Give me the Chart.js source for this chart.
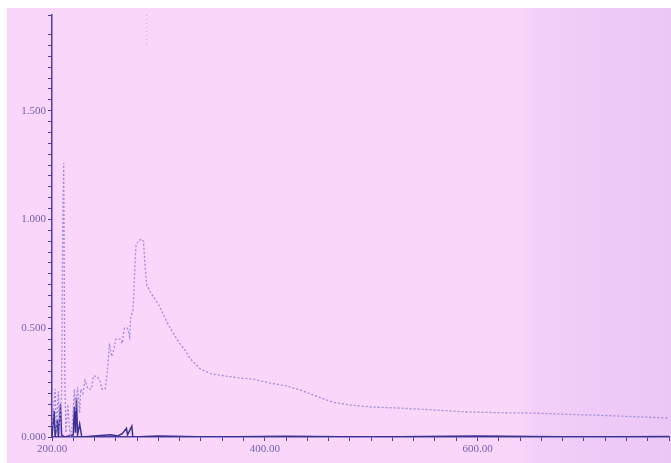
<!DOCTYPE html>
<html>
<head>
<meta charset="utf-8">
<script src="https://cdn.jsdelivr.net/npm/chart.js@4.4.0/dist/chart.umd.min.js"></script>
<style>
  html, body { margin: 0; padding: 0; background: #ffffff; }
  #wrap { position: relative; width: 671px; height: 463px; overflow: hidden; }
  #paper { position: absolute; left: 7px; top: 8px; right: 0; bottom: 0;
    background: linear-gradient(to right, #fad6fb 0%, #fad6fb 77%, #f2cff8 80%, #eac7f5 100%); }
  #spec { position: absolute; left: 0; top: 0; }
</style>
</head>
<body>
<div id="wrap">
  <div id="paper"></div>
  <canvas id="spec" width="671" height="463"></canvas>
</div>
<script>
// wavelength (nm) and absorbance
let wavelength = [200, 201, 203, 204, 206, 207, 209, 210, 211, 212, 213, 215, 217, 219, 221, 222, 224, 226, 227, 229,
  231, 234, 237, 239, 242, 245, 247, 250, 252, 254, 256, 258, 260, 264, 266, 268, 271, 273, 274, 276,
  277, 278, 279, 281, 284, 286, 287, 289, 292, 296, 300, 305, 310, 315, 320, 325, 330, 340, 350, 370,
  390, 403, 420, 434, 450, 464, 480, 500, 527, 560, 590, 620, 651, 680, 714, 745, 780]
let absorbance = [0.05, 0.10, 0.22, 0.03, 0.21, 0.02, 0.20, 0.90, 1.26, 0.30, 0.02, 0.15, 0.00, 0.05, 0.22, 0.12, 0.23, 0.11, 0.22, 0.20,
  0.26, 0.22, 0.22, 0.28, 0.28, 0.26, 0.22, 0.22, 0.30, 0.43, 0.37, 0.40, 0.45, 0.45, 0.43, 0.50, 0.50, 0.46, 0.55, 0.58,
  0.67, 0.80, 0.88, 0.90, 0.91, 0.90, 0.82, 0.70, 0.67, 0.64, 0.61, 0.56, 0.51, 0.47, 0.43, 0.40, 0.36, 0.31, 0.29, 0.275,
  0.265, 0.25, 0.235, 0.215, 0.185, 0.16, 0.147, 0.138, 0.133, 0.124, 0.115, 0.112, 0.11, 0.105, 0.10, 0.094, 0.087]

// dark baseline trace
let baseWl = [200, 202, 203, 205, 206, 208, 209, 212, 220, 221, 222, 223, 224, 226, 228, 240, 255, 262, 266, 270,
  271, 275, 276, 300, 350, 420, 500, 600, 700, 780]
let baseAbs = [0.00, 0.12, 0.00, 0.08, 0.00, 0.15, 0.01, 0.00, 0.01, 0.14, 0.02, 0.18, 0.01, 0.06, 0.00, 0.005, 0.01, 0.005, 0.015, 0.04,
  0.01, 0.05, 0.00, 0.005, 0.00, 0.003, 0.00, 0.005, 0.00, 0.002]

// faint marker near the top
let markWl = [289, 289]
let markAbs = [1.94, 1.80]

let xMin = 200, xMax = 780, yMax = 1.94

function pts(xs, ys) { return xs.map((x, i) => ({ x: x, y: ys[i] })) }

let ink = '#4b3fa6'
let txt = '#6f62b8'

let ctx = document.getElementById('spec').getContext('2d')
let chart = new Chart(ctx, {
  type: 'line',
  data: {
    datasets: [{
      label: 'Spectrum',
      data: pts(wavelength, absorbance),
      borderColor: '#9c8cdc',
      borderWidth: 1.3,
      borderDash: [2, 2],
      pointRadius: 0,
      tension: 0
    }, {
      label: 'Baseline',
      data: pts(baseWl, baseAbs),
      borderColor: '#3b3090',
      borderWidth: 1.5,
      pointRadius: 0,
      tension: 0
    }, {
      label: 'Marker',
      data: pts(markWl, markAbs),
      borderColor: '#b7a9e6',
      borderWidth: 1,
      borderDash: [1, 3],
      pointRadius: 0
    }]
  },
  options: {
    responsive: false,
    animation: false,
    layout: { padding: { top: 15, right: 0, left: 0, bottom: 0 } },
    plugins: { legend: { display: false }, tooltip: { enabled: false } },
    scales: {
      x: {
        type: 'linear',
        min: xMin, max: xMax,
        border: { color: ink, width: 1.5 },
        grid: { drawOnChartArea: false, color: ink, tickLength: 4 },
        ticks: {
          stepSize: 20, autoSkip: false, maxRotation: 0, color: txt,
          font: { family: 'Liberation Serif', size: 11 },
          padding: 2,
          callback: v => (v % 200 === 0) ? v.toFixed(2) : ''
        },
        afterFit: s => { s.height = 26 }
      },
      y: {
        min: 0, max: yMax,
        border: { color: ink, width: 1.5 },
        grid: { drawOnChartArea: false, color: ink, tickLength: 4 },
        ticks: {
          stepSize: 0.05, autoSkip: false, color: txt,
          font: { family: 'Liberation Serif', size: 11 },
          padding: 2,
          callback: v => (Math.abs(v / 0.5 - Math.round(v / 0.5)) < 1e-6) ? v.toFixed(3) : ''
        },
        afterFit: s => { s.width = 52 }
      }
    }
  }
})
</script>
</body>
</html>
